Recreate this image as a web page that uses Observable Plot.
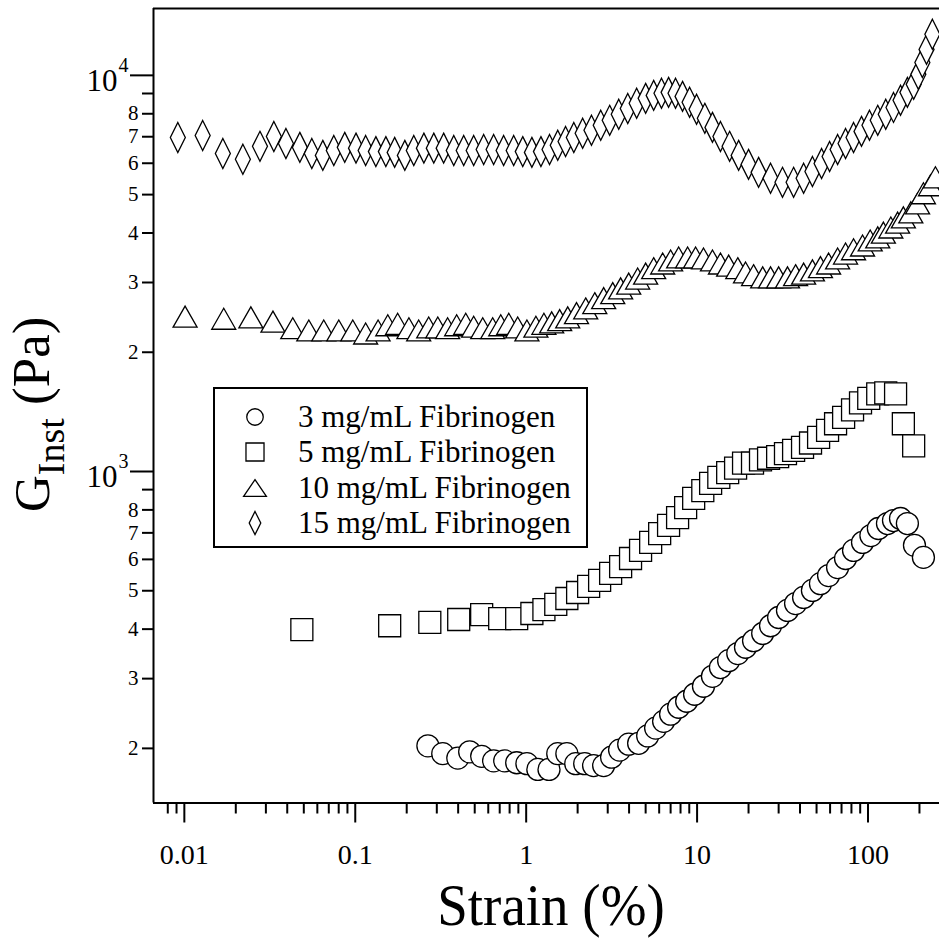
<!DOCTYPE html>
<html>
<head>
<meta charset="utf-8">
<script src="https://cdn.jsdelivr.net/npm/d3@7"></script>
<script src="https://cdn.jsdelivr.net/npm/@observablehq/plot@0.6"></script>
<style>
  html, body { margin: 0; padding: 0; background: white; overflow: hidden; }
  #chart svg { display: block; }
</style>
</head>
<body>
<div id="chart"></div>
<script>
// ---------------- data ----------------
const seriesNames = ["3 mg/mL Fibrinogen", "5 mg/mL Fibrinogen", "10 mg/mL Fibrinogen", "15 mg/mL Fibrinogen"];

const strain3 = [0.266, 0.325, 0.398, 0.467, 0.549, 0.645, 0.749, 0.880, 1.01, 1.17,
  1.36, 1.53, 1.73, 1.95, 2.20, 2.48, 2.84, 3.16, 3.52, 3.98,
  4.55, 5.14, 5.72, 6.37, 7.00, 7.80, 8.69, 9.67, 10.9, 12.3,
  13.7, 15.3, 17.3, 19.2, 21.4, 24.2, 26.9, 30.0, 33.8, 37.7,
  42.0, 47.3, 52.7, 58.8, 66.4, 73.9, 82.3, 92.9, 104, 115,
  130, 141, 155, 170, 187, 211];
const g3 = [203, 194, 189, 196, 191, 186, 186, 184, 183, 177,
  177, 194, 194, 183, 183, 181, 181, 190, 198, 205,
  206, 215, 225, 234, 244, 254, 263, 274, 287, 304,
  320, 333, 347, 360, 374, 390, 408, 428, 446, 464,
  481, 501, 521, 546, 572, 603, 632, 662, 689, 718,
  739, 752, 761, 739, 651, 607];

const strain5 = [0.0487, 0.159, 0.273, 0.403, 0.549, 0.700, 0.880, 1.08, 1.27, 1.49,
  1.73, 2.00, 2.32, 2.69, 3.12, 3.57, 4.08, 4.67, 5.35, 6.04,
  6.81, 7.69, 8.57, 9.55, 10.8, 12.0, 13.4, 15.1, 16.8, 18.7,
  21.1, 23.5, 26.2, 29.6, 32.9, 36.7, 41.4, 46.1, 51.4, 58.0,
  64.6, 72.0, 81.2, 90.4, 101, 114, 127, 145, 161, 185];
const g5 = [399, 408, 416, 423, 435, 425, 425, 438, 448, 462,
  478, 495, 513, 531, 553, 575, 603, 632, 662, 697,
  731, 765, 811, 855, 895, 933, 966, 994, 1020, 1050,
  1050, 1070, 1080, 1090, 1110, 1130, 1150, 1180, 1220, 1270,
  1320, 1370, 1430, 1490, 1530, 1570, 1580, 1570, 1320, 1160];

const strain10 = [0.0101, 0.0170, 0.0245, 0.0330, 0.0431, 0.0535, 0.0654, 0.0801, 0.0967, 0.115,
  0.136, 0.155, 0.177, 0.206, 0.235, 0.269, 0.304, 0.347, 0.392, 0.443,
  0.493, 0.557, 0.637, 0.710, 0.791, 0.892, 1.01, 1.14, 1.27, 1.41,
  1.57, 1.75, 1.97, 2.23, 2.52, 2.84, 3.21, 3.57, 3.98, 4.49,
  5.00, 5.57, 6.29, 7.00, 7.80, 8.80, 9.80, 10.9, 12.3, 13.7,
  15.3, 17.3, 19.2, 21.4, 24.2, 26.9, 30.0, 33.8, 37.7, 42.0,
  47.3, 52.7, 58.8, 66.4, 73.9, 82.3, 92.9, 103, 114, 123,
  136, 149, 161, 178, 195, 211, 232, 248];
const g10 = [2460, 2430, 2450, 2390, 2300, 2270, 2270, 2270, 2270, 2230,
  2270, 2340, 2360, 2300, 2270, 2310, 2310, 2300, 2340, 2360,
  2320, 2300, 2300, 2340, 2360, 2310, 2270, 2320, 2360, 2380,
  2410, 2450, 2510, 2580, 2660, 2740, 2820, 2900, 2980, 3070,
  3160, 3260, 3350, 3410, 3470, 3470, 3470, 3450, 3410, 3350,
  3310, 3260, 3180, 3130, 3090, 3090, 3090, 3090, 3130, 3160,
  3220, 3280, 3350, 3450, 3550, 3640, 3720, 3830, 3900, 4010,
  4130, 4250, 4380, 4510, 4750, 5040, 5280, 5530];

const strain15 = [0.00916, 0.0128, 0.0168, 0.0220, 0.0277, 0.0334, 0.0393, 0.0474, 0.0557, 0.0646,
  0.0749, 0.0868, 0.101, 0.115, 0.132, 0.151, 0.170, 0.195, 0.220, 0.252,
  0.288, 0.329, 0.377, 0.431, 0.493, 0.564, 0.645, 0.738, 0.845, 0.955,
  1.08, 1.22, 1.37, 1.53, 1.70, 1.90, 2.14, 2.41, 2.73, 3.08,
  3.48, 3.93, 4.43, 5.00, 5.57, 6.19, 6.81, 7.48, 8.22, 9.04,
  9.93, 11.1, 12.3, 13.7, 15.5, 17.5, 20.0, 22.9, 26.9, 31.6,
  36.7, 42.0, 47.3, 53.5, 59.6, 66.4, 73.9, 82.3, 91.6, 102,
  114, 127, 141, 155, 170, 185, 197, 208, 220, 238];
const g15 = [6970, 7050, 6350, 6140, 6620, 7010, 6730, 6580, 6350, 6280,
  6460, 6580, 6550, 6460, 6420, 6420, 6390, 6280, 6460, 6550,
  6550, 6550, 6460, 6460, 6460, 6500, 6500, 6460, 6460, 6420,
  6390, 6420, 6500, 6660, 6810, 6970, 7140, 7270, 7480, 7700,
  7980, 8250, 8500, 8750, 8900, 9010, 9060, 9010, 8850, 8550,
  8210, 7790, 7390, 7010, 6620, 6280, 5960, 5690, 5500, 5370,
  5370, 5500, 5720, 5990, 6240, 6500, 6730, 6970, 7220, 7480,
  7700, 7980, 8300, 8650, 9060, 9490, 10060, 10780, 11630, 12700];

// axes
const xDomain = [0.0066, 262];
const yDomain = [145.6, 14750];
const xMajorTicks = [0.01, 0.1, 1, 10, 100];
const xMajorLabels = ["0.01", "0.1", "1", "10", "100"];
const xMinorTicks = [0.008, 0.009,
  0.02, 0.03, 0.04, 0.05, 0.06, 0.07, 0.08, 0.09,
  0.2, 0.3, 0.4, 0.5, 0.6, 0.7, 0.8, 0.9,
  2, 3, 4, 5, 6, 7, 8, 9,
  20, 30, 40, 50, 60, 70, 80, 90,
  200];
const yDecades = [1000, 10000];
const yDecadeExp = ["3", "4"];
const yMinorTicks = [200, 300, 400, 500, 600, 700, 800, 900,
  2000, 3000, 4000, 5000, 6000, 7000, 8000, 9000];
const yMinorLabels = ["2", "3", "4", "5", "6", "7", "8", "",
  "2", "3", "4", "5", "6", "7", "8", ""];

// ---------------- marker shapes ----------------
const circleSym = k => ({draw(c) { const r = 11 * k; c.moveTo(r, 0); c.arc(0, 0, r, 0, 2 * Math.PI); c.closePath(); }});
const squareSym = k => ({draw(c) { const h = 11 * k; c.rect(-h, -h, 2 * h, 2 * h); }});
const triangleSym = (k, ky = k) => ({draw(c) { c.moveTo(0, -10.5 * ky); c.lineTo(12 * k, 10.5 * ky); c.lineTo(-12 * k, 10.5 * ky); c.closePath(); }});
const diamondSym = k => ({draw(c) { c.moveTo(0, -15 * k); c.lineTo(7.5 * k, 0); c.lineTo(0, 15 * k); c.lineTo(-7.5 * k, 0); c.closePath(); }});

const symbols = [circleSym(1), squareSym(1), triangleSym(1), diamondSym(1)];
const legendSymbols = [circleSym(0.75), squareSym(0.82), triangleSym(0.95, 0.8), diamondSym(0.77)];

const rows = (xs, ys) => xs.map((x, i) => ({x, y: ys[i]}));
const data = [rows(strain3, g3), rows(strain5, g5), rows(strain10, g10), rows(strain15, g15)];

const dotOpts = {x: "x", y: "y", fill: "white", stroke: "black", strokeWidth: 1.3, r: 10};
const font = "'Liberation Serif', 'Times New Roman', serif";

const svgNode = Plot.plot({
  width: 939,
  height: 939,
  marginLeft: 153,
  marginRight: 0,
  marginTop: 8,
  marginBottom: 136.5,
  style: {fontFamily: font, background: "white", color: "black"},
  x: {type: "log", domain: xDomain, axis: null},
  y: {type: "log", domain: yDomain, axis: null},
  marks: [
    // frame lines (top, bottom, left)
    Plot.ruleY([yDomain[0], yDomain[1]], {stroke: "black", strokeWidth: 2}),
    Plot.ruleX([xDomain[0]], {stroke: "black", strokeWidth: 2}),
    // x axis ticks
    Plot.axisX({ticks: xMajorTicks, tickSize: 20, strokeWidth: 2, tickFormat: () => "", label: null}),
    Plot.axisX({ticks: xMinorTicks, tickSize: 11, strokeWidth: 2, tickFormat: () => "", label: null}),
    Plot.text(xMajorTicks, {x: d => d, text: (d, i) => xMajorLabels[i], frameAnchor: "bottom",
      lineAnchor: "top", dy: 41, fontSize: 28}),
    // y axis ticks
    Plot.axisY({ticks: yMinorTicks, tickSize: 11, strokeWidth: 2, tickFormat: () => "", label: null}),
    Plot.axisY({ticks: yDecades, tickSize: 23, strokeWidth: 2, tickFormat: () => "", label: null}),
    Plot.text(yMinorTicks, {y: d => d, text: (d, i) => yMinorLabels[i], frameAnchor: "left",
      textAnchor: "end", dx: -15, fontSize: 21}),
    Plot.text(yDecades, {y: d => d, text: () => "10", frameAnchor: "left", textAnchor: "end",
      dx: -36, dy: 6, fontSize: 31}),
    Plot.text(yDecades, {y: d => d, text: (d, i) => yDecadeExp[i], frameAnchor: "left", textAnchor: "start",
      dx: -35, dy: -10, fontSize: 20}),
    // series
    Plot.dot(data[0], {...dotOpts, symbol: symbols[0]}),
    Plot.dot(data[1], {...dotOpts, symbol: symbols[1]}),
    Plot.dot(data[2], {...dotOpts, symbol: symbols[2]}),
    Plot.dot(data[3], {...dotOpts, symbol: symbols[3]})
  ]
});

const svg = d3.select(svgNode);

// x axis title
svg.append("text")
  .attr("transform", "translate(551,925) scale(1,1.08)")
  .attr("text-anchor", "middle")
  .attr("font-family", font).attr("font-size", 55).attr("fill", "black")
  .text("Strain (%)");

// y axis title G_Inst (Pa)
const yt = svg.append("text")
  .attr("transform", "translate(49,512) rotate(-90)")
  .attr("font-family", font).attr("fill", "black")
  .attr("text-anchor", "start");
yt.append("tspan").attr("font-size", 51).text("G");
yt.append("tspan").attr("font-size", 38).attr("dy", 15).text("Inst");
yt.append("tspan").attr("font-size", 53).attr("dy", -15).text("\u00a0(Pa)");

// legend
const lg = svg.append("g");
lg.append("rect").attr("x", 214).attr("y", 388).attr("width", 373).attr("height", 159)
  .attr("fill", "white").attr("stroke", "black").attr("stroke-width", 2);
const rowY = [417, 452, 488, 523];
seriesNames.forEach((name, i) => {
  lg.append("path")
    .attr("transform", `translate(255,${rowY[i]})`)
    .attr("d", d3.symbol().type(legendSymbols[i])())
    .attr("fill", "white").attr("stroke", "black").attr("stroke-width", 1.3);
  lg.append("text")
    .attr("x", 298).attr("y", rowY[i] + 10)
    .attr("text-anchor", "start")
    .attr("font-family", font).attr("font-size", 31).attr("fill", "black")
    .text(name);
});

document.getElementById("chart").append(svgNode);
</script>
</body>
</html>
